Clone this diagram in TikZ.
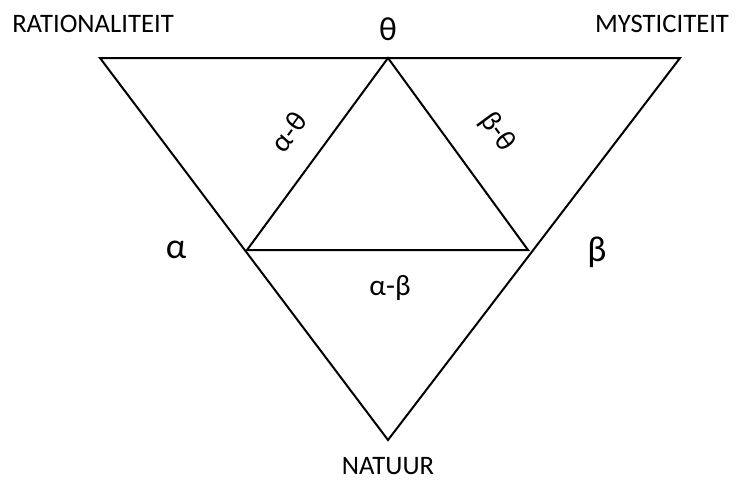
\documentclass[tikz,border=0pt]{standalone}
\usepackage{fontspec}
\setmainfont{Carlito}
\begin{document}
\begin{tikzpicture}[x=0.75pt,y=-0.75pt,
  edge/.style={line width=1.5pt,line join=miter},
  lbl/.style={inner sep=0pt,font=\fontsize{20}{24}\selectfont},
  mid/.style={inner sep=0pt,font=\fontsize{22}{26}\selectfont},
  greek/.style={inner sep=0pt,font=\fontsize{27}{31}\selectfont}]
\useasboundingbox (0,0) rectangle (737,480);
\coordinate (TL) at (100,58);
\coordinate (TR) at (680,58);
\coordinate (B) at (388,440);
\coordinate (T) at (388,58);
\coordinate (L) at (247,250);
\coordinate (R) at (528,250);
\draw[edge] (TL) -- (TR) -- (B) -- cycle;
\draw[edge] (T) -- (L) -- (R) -- cycle;
\node[lbl] (rat) at (93,24) {RATIONALITEIT};
\node[lbl] (mys) at (662,24) {MYSTICITEIT};
\node[lbl] (nat) at (388,466) {NATUUR};
\node[greek,font=\fontsize{25}{29}\selectfont] (theta) at (388,29) {θ};
\node[greek] (alpha) at (176,250) {α};
\node[greek] (beta) at (597,252) {β};
\node[mid] (ab) at (390,288) {α-β};
\node[mid,rotate=53.7] (at) at (289,132) {α-θ};
\node[mid,rotate=-53.7] (bt) at (497,132) {β-θ};
\end{tikzpicture}
\end{document}
